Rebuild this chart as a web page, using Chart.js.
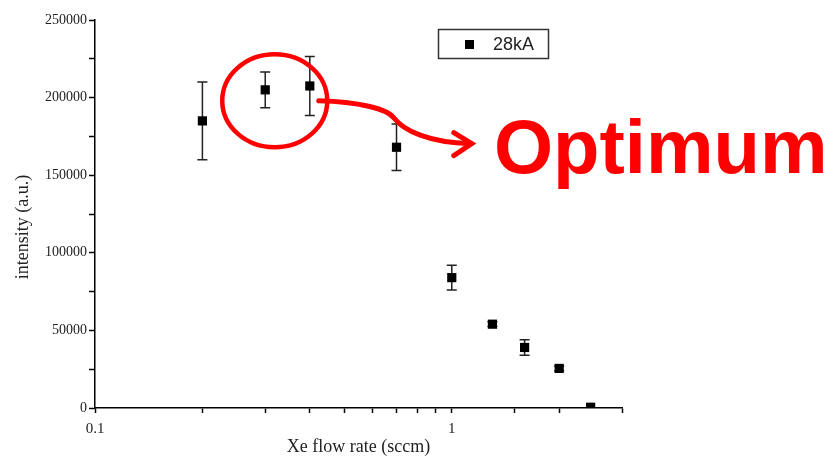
<!DOCTYPE html>
<html>
<head>
<meta charset="utf-8">
<script src="https://cdn.jsdelivr.net/npm/chart.js@4/dist/chart.umd.min.js"></script>
<style>
  html, body { margin: 0; padding: 0; background: #fff; }
  #wrap { width: 833px; height: 458px; }
</style>
</head>
<body>
<div id="wrap"><canvas id="chart1" width="833" height="458"></canvas></div>
<script>
// ----- data -----
const flowRate = [0.2, 0.3, 0.4, 0.7, 1.0, 1.3, 1.6, 2.0, 2.45];
const intensity = [185000, 205000, 207500, 168000, 84000, 54000, 39000, 25500, 500];
const errorSize = [25000, 11500, 19000, 15000, 8000, 1500, 5000, 1500, 0];
const seriesLabel = "28kA";
const xMajorLabels = [0.1, 1];
const yLabelStep = 50000;
const yTitle = "intensity (a.u.)";

const serif = "'Liberation Serif', 'DejaVu Serif', serif";
const sans = "'Liberation Sans', Arial, sans-serif";

// error bars under the markers
const errorBars = {
  id: "errorBars",
  beforeDatasetsDraw(chart) {
    const ctx = chart.ctx;
    const ys = chart.scales.y;
    const meta = chart.getDatasetMeta(0);
    ctx.save();
    ctx.strokeStyle = "#222";
    ctx.lineWidth = 1.5;
    meta.data.forEach((pt, i) => {
      const e = errorSize[i];
      if (!e) return;
      const top = ys.getPixelForValue(intensity[i] + e);
      const bot = ys.getPixelForValue(intensity[i] - e);
      ctx.beginPath();
      ctx.moveTo(pt.x, top);
      ctx.lineTo(pt.x, bot);
      ctx.moveTo(pt.x - 5, top);
      ctx.lineTo(pt.x + 5, top);
      ctx.moveTo(pt.x - 5, bot);
      ctx.lineTo(pt.x + 5, bot);
      ctx.stroke();
    });
    ctx.restore();
  },
};

// y title, legend box, red circle, arrow and the "Optimum" note
const notes = {
  id: "notes",
  afterDraw(chart) {
    const ctx = chart.ctx;
    const xs = chart.scales.x;
    const ys = chart.scales.y;
    ctx.save();

    // y axis title (sits a bit below the middle in the original)
    ctx.save();
    ctx.translate(23, 227);
    ctx.rotate(-Math.PI / 2);
    ctx.fillStyle = "#222";
    ctx.font = "18px " + serif;
    ctx.textAlign = "center";
    ctx.textBaseline = "middle";
    ctx.fillText(yTitle, 0, 0);
    ctx.restore();

    // legend
    ctx.strokeStyle = "#333";
    ctx.lineWidth = 1.5;
    ctx.strokeRect(438.5, 29.5, 110, 29);
    ctx.fillStyle = "#000";
    ctx.fillRect(465, 40, 9, 9);
    ctx.fillStyle = "#222";
    ctx.font = "18px " + sans;
    ctx.textBaseline = "middle";
    ctx.textAlign = "left";
    ctx.fillText(seriesLabel, 493, 45);

    // circle round the optimum points
    const cx = xs.getPixelForValue(0.319);
    const cy = ys.getPixelForValue(198000);
    ctx.strokeStyle = "#ff0000";
    ctx.lineWidth = 4.5;
    ctx.beginPath();
    ctx.ellipse(cx, cy, 52.5, 46.5, 0, 0, Math.PI * 2);
    ctx.stroke();

    // arrow
    const sx = cx + 44, sy = cy;
    ctx.lineWidth = 5;
    ctx.lineCap = "round";
    ctx.beginPath();
    ctx.moveTo(sx, sy);
    ctx.bezierCurveTo(sx + 40, sy + 1, sx + 68, sy + 8, sx + 75, sy + 17);
    ctx.bezierCurveTo(sx + 85, sy + 30, sx + 110, sy + 42, sx + 152, sy + 43);
    ctx.stroke();
    ctx.beginPath();
    ctx.moveTo(sx + 135, sy + 32);
    ctx.lineTo(sx + 153, sy + 43);
    ctx.lineTo(sx + 135, sy + 55);
    ctx.stroke();

    // text
    ctx.fillStyle = "#ff0000";
    ctx.font = "bold 76px " + sans;
    ctx.textBaseline = "alphabetic";
    ctx.fillText("Optimum", 494, 173);
    ctx.restore();
  },
};

const myChart1 = new Chart(document.getElementById("chart1"), {
  type: "scatter",
  data: {
    datasets: [
      {
        label: seriesLabel,
        data: flowRate.map((x, i) => ({ x: x, y: intensity[i] })),
        pointStyle: "rect",
        pointRadius: 6.5,
        pointHoverRadius: 6.5,
        backgroundColor: "#000",
        borderColor: "#000",
        borderWidth: 0,
        showLine: false,
      },
    ],
  },
  options: {
    responsive: false,
    animation: false,
    events: [],
    layout: { padding: { left: 0, right: 211, top: 20, bottom: 0 } },
    plugins: { legend: { display: false }, tooltip: { enabled: false } },
    scales: {
      x: {
        type: "logarithmic",
        min: 0.1,
        max: 3,
        afterFit: (s) => { s.height = 50; },
        border: { color: "#000", width: 1.5 },
        grid: { drawOnChartArea: false, drawTicks: true, tickLength: 5, color: "#000", tickWidth: 1.5 },
        ticks: {
          autoSkip: false,
          maxRotation: 0,
          padding: 7,
          color: "#222",
          font: { family: serif, size: 15 },
          callback: (v) => {
            const hit = xMajorLabels.find((m) => Math.abs(m - v) < 1e-9);
            return hit !== undefined ? String(hit) : "";
          },
        },
        title: {
          display: true,
          text: "Xe flow rate (sccm)",
          color: "#222",
          font: { family: serif, size: 18 },
          padding: { top: 0, bottom: 0 },
        },
      },
      y: {
        min: 0,
        max: 250000,
        afterFit: (s) => { s.width = 95; },
        border: { color: "#000", width: 1.5 },
        grid: { drawOnChartArea: false, drawTicks: true, tickLength: 6, color: "#000", tickWidth: 1.5 },
        ticks: {
          stepSize: 25000,
          autoSkip: false,
          padding: 2,
          color: "#222",
          font: { family: serif, size: 14 },
          callback: (v) => (v % yLabelStep === 0 ? String(v) : ""),
        },
        title: { display: false },
      },
    },
  },
  plugins: [errorBars, notes],
});
</script>
</body>
</html>
